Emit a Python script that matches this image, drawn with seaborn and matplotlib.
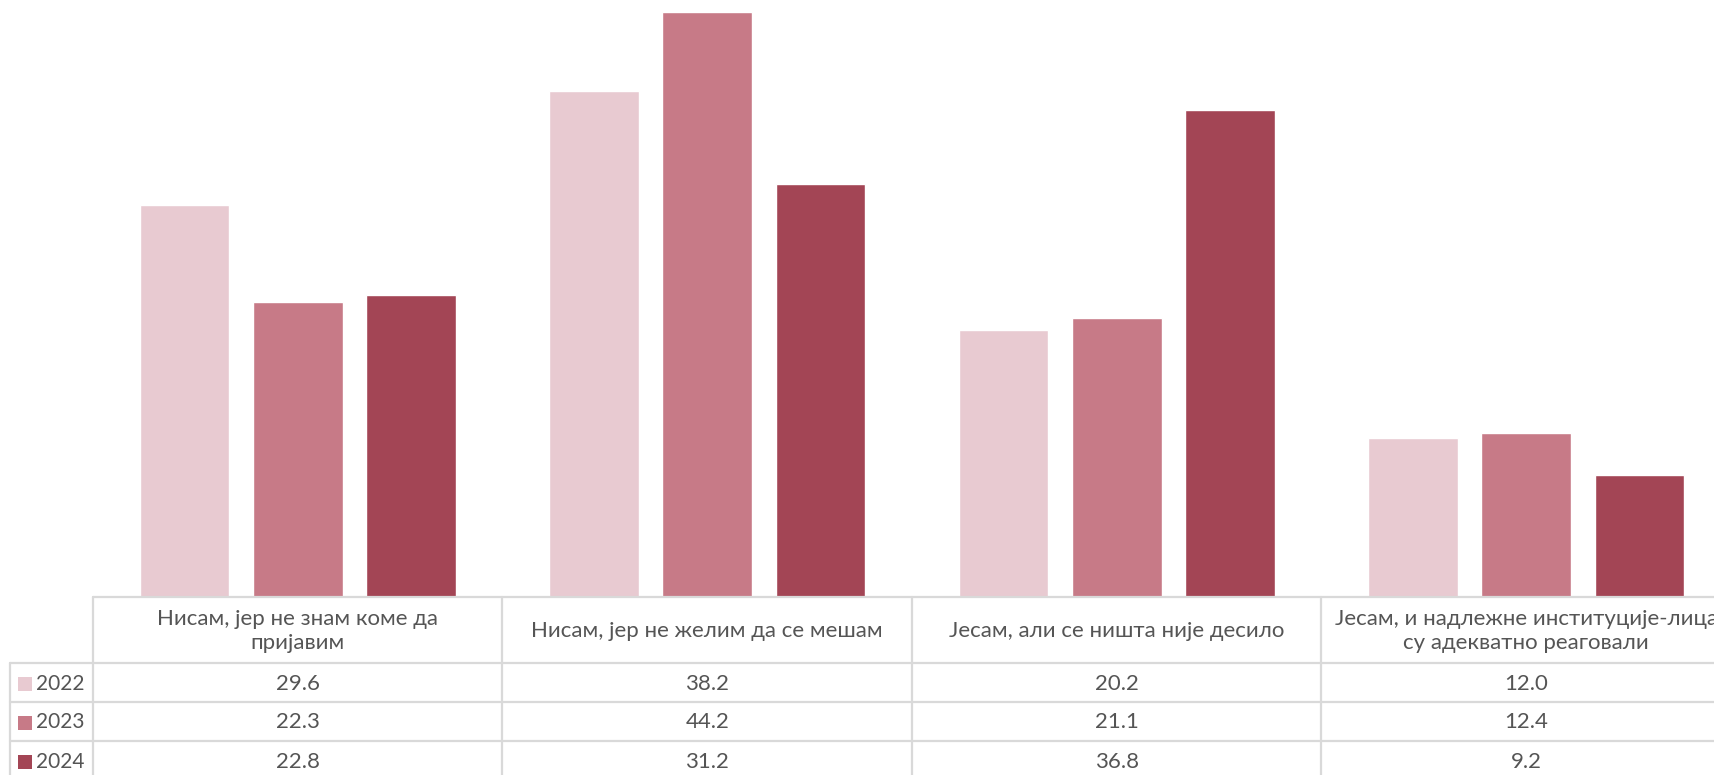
import matplotlib.pyplot as plt
import seaborn as sns
import pandas as pd
from matplotlib.transforms import blended_transform_factory
from matplotlib.patches import Rectangle

categories = [
    "Нисам, јер не знам коме да\nпријавим",
    "Нисам, јер не желим да се мешам",
    "Јесам, али се ништа није десило",
    "Јесам, и надлежне институције-лица\nсу адекватно реаговали",
]
years = ["2022", "2023", "2024"]
values_2022 = [29.6, 38.2, 20.2, 12.0]
values_2023 = [22.3, 44.2, 21.1, 12.4]
values_2024 = [22.8, 31.2, 36.8, 9.2]
colors = ["#E8CAD1", "#C77A87", "#A34555"]

rows = []
for year, vals in zip(years, [values_2022, values_2023, values_2024]):
    for cat, v in zip(categories, vals):
        rows.append({"category": cat, "year": year, "value": v})
df = pd.DataFrame(rows)

sns.set_style("white")
plt.rcParams["font.family"] = ["Lato", "DejaVu Sans"]
text_color = "#555555"
grid_color = "#D9D9D9"

W, H = 1715, 775
fig = plt.figure(figsize=(W / 100, H / 100), dpi=100)
base_px = 597
ax = fig.add_axes([93 / W, 1 - base_px / H, (1731 - 93) / W, base_px / H])

sns.barplot(data=df, x="category", y="value", hue="year", order=categories,
            hue_order=years, palette=colors, width=0.83, gap=0.21,
            saturation=1, legend=False, ax=ax)
ax.set_xlim(-0.5, 3.5)
ax.set_ylim(0, 45.1)
ax.set_axis_off()

# data table below the plot (Excel style)
tr = blended_transform_factory(ax.transData, ax.transAxes)
def yf(px):
    return -px / base_px

col_w_px = (1731 - 93) / 4
label_left = -0.5 - (93 - 10) / col_w_px
header_h, row_h = 66, 39
lines_y = [header_h + i * row_h for i in range(4)]
lw = 1.6

# top border of header
ax.plot([-0.5, 3.5], [yf(0), yf(0)], color=grid_color, lw=lw, transform=tr, clip_on=False)
for ly in lines_y:
    ax.plot([label_left, 3.5], [yf(ly), yf(ly)], color=grid_color, lw=lw,
            transform=tr, clip_on=False)
for i in range(5):
    ax.plot([i - 0.5, i - 0.5], [yf(0), yf(lines_y[-1])], color=grid_color, lw=lw,
            transform=tr, clip_on=False)
ax.plot([label_left, label_left], [yf(header_h), yf(lines_y[-1])], color=grid_color,
        lw=lw, transform=tr, clip_on=False)

fs = 16
for i, cat in enumerate(categories):
    ax.text(i, yf(header_h / 2 + 1), cat, ha="center", va="center", fontsize=fs,
            color=text_color, transform=tr, linespacing=1.25)

for r, (year, vals, c) in enumerate(zip(years, [values_2022, values_2023, values_2024], colors)):
    yc = yf(header_h + row_h * r + row_h / 2 + 1)
    for i, v in enumerate(vals):
        ax.text(i, yc, f"{v:.1f}", ha="center", va="center", fontsize=fs,
                color=text_color, transform=tr)
    fig.text(36 / W, 1 - (base_px + header_h + row_h * r + row_h / 2 + 1) / H, year,
             ha="left", va="center", fontsize=15, color=text_color)
    fig.patches.append(Rectangle((18 / W, 1 - (base_px + header_h + row_h * r + row_h / 2 + 8) / H),
                                 14 / W, 14 / H, transform=fig.transFigure,
                                 facecolor=c, edgecolor="none"))

plt.savefig("out.png", dpi=100)
